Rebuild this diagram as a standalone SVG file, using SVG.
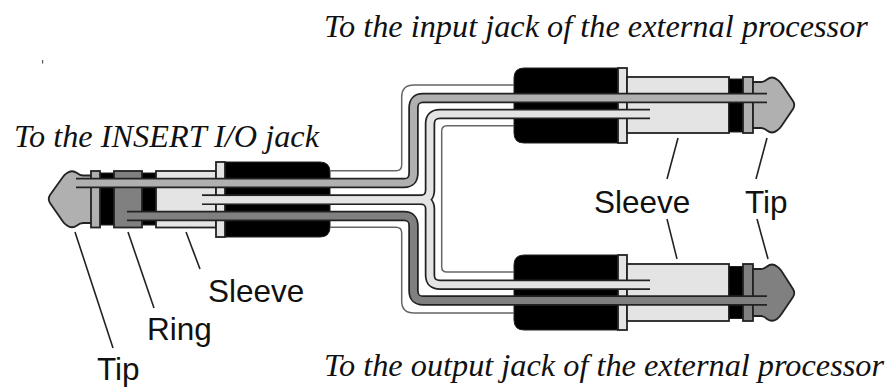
<svg xmlns="http://www.w3.org/2000/svg" width="889" height="387" viewBox="0 0 889 387">
<style>
.t{font-family:"Liberation Serif",serif;font-style:italic;font-size:32.3px;fill:#111}
.s{font-family:"Liberation Sans",sans-serif;font-size:31.5px;fill:#111}
.b{fill:#000;stroke:#222;stroke-width:1}
.sl{fill:#e4e4e4;stroke:#222;stroke-width:1.8}
.g{fill:#b0b0b0;stroke:#222;stroke-width:1.8}
.d{fill:#808080;stroke:#222;stroke-width:1.8}
.thin{fill:none;stroke:#666;stroke-width:1.5}
.wo{fill:none;stroke:#222;stroke-width:10.5}
.wl{fill:none;stroke:#e4e4e4;stroke-width:7}
.wg{fill:none;stroke:#b0b0b0;stroke-width:7}
.wd{fill:none;stroke:#808080;stroke-width:7}
.lead{fill:none;stroke:#222;stroke-width:1.6}
</style>
<rect width="889" height="387" fill="#fff"/>
<rect x="42" y="60" width="1.2" height="3.500" fill="#555"/>
<g id="plug-left">
<path class="g" d="M92 175.500H83Q80 175.500 77 173Q72 169.500 67 173Q64.500 174.500 62.500 177.500L50 195Q47.500 199 50 203L62.500 221Q64.500 224 67 225.500Q72 229 77 225.500Q80 223 83 223H92Z"/>
<rect class="b" x="100" y="173" width="14" height="52"/>
<rect class="b" x="142" y="173" width="14" height="52"/>
<rect class="g" x="91" y="171" width="9" height="56.500"/>
<rect class="d" x="114" y="171" width="28" height="56.500"/>
<rect class="sl" x="156" y="171" width="60" height="56.500"/>
<path class="b" d="M225 162H320Q330 162 330 172V227Q330 237 320 237H225Z"/>
<rect class="sl" x="216" y="162" width="9" height="75"/>
</g>
<g id="plug-top">
<path class="b" d="M618 68H524Q514 68 514 78V133Q514 143 524 143H618Z"/>
<rect class="sl" x="618" y="68" width="9" height="75"/>
<rect class="sl" x="627" y="77" width="102" height="56"/>
<rect class="b" x="729" y="79" width="14" height="53"/>
<rect class="g" x="743" y="77" width="10" height="56"/>
<path class="g" d="M753 82H761Q764 82 767 79.500Q772 75.500 777 79.500Q779.500 81 781.500 84L793 101Q795.500 105 793 109L781.500 126Q779.500 129 777 130.500Q772 134.500 767 130.500Q764 128 761 128H753Z"/>
</g>
<g id="plug-bottom">
<path class="b" d="M618 255H524Q514 255 514 265V320Q514 330 524 330H618Z"/>
<rect class="sl" x="618" y="255" width="9" height="75"/>
<rect class="sl" x="627" y="264" width="102" height="57"/>
<rect class="b" x="729" y="266.500" width="14" height="52"/>
<rect class="d" x="743" y="264" width="10" height="57"/>
<path class="d" d="M753 269H761Q764 269 767 266.500Q772 262.500 777 266.500Q779.500 268 781.500 271L793 289Q795.500 293 793 297L781.500 314Q779.500 317 777 319Q772 322.500 767 319Q764 316 761 316H753Z"/>
</g>
<g id="connectors">
<path class="thin" d="M330 170.700H396Q401.700 170.700 401.700 165V97Q401.700 85 414 85H514"/>
<path class="thin" d="M330 227.300H396Q401.700 227.300 401.700 233V301Q401.700 313 414 313H514"/>
<path class="thin" d="M514 125.700H447Q441.700 125.700 441.700 131V267Q441.700 272 447 272H514"/>
<path class="wo" d="M76 183H404Q413.500 183 413.500 173V108Q413.500 98 423 98H767"/>
<path class="wg" d="M74 183H404Q413.500 183 413.500 173V108Q413.500 98 423 98H769"/>
<path class="wo" d="M202 199.700H420Q430 199.700 430 190V124Q430 114 440 114H650"/>
<path class="wo" d="M202 199.700H420Q430 199.700 430 209V275Q430 284.700 440 284.700H650"/>
<path class="wl" d="M200 199.700H420Q430 199.700 430 190V124Q430 114 440 114H652"/>
<path class="wl" d="M200 199.700H420Q430 199.700 430 209V275Q430 284.700 440 284.700H652"/>
<path class="wo" d="M127 216H404Q413.500 216 413.500 226V290.500Q413.500 300.500 423 300.500H767"/>
<path class="wd" d="M125 216H404Q413.500 216 413.500 226V290.500Q413.500 300.500 423 300.500H769"/>
<path class="lead" d="M75 232L113 348"/>
<path class="lead" d="M128 232L154 308"/>
<path class="lead" d="M186 232L200 269"/>
<path class="lead" d="M678 138L667 179"/>
<path class="lead" d="M767 138L756 179"/>
<path class="lead" d="M677 259L667 219"/>
<path class="lead" d="M768 259L757 219"/>
</g>
<g id="labels">
<text class="t" x="324" y="36.700">To the input jack of the external processor</text>
<text class="t" x="14" y="146.500">To the INSERT I/O jack</text>
<text class="t" x="324" y="376">To the output jack of the external processor</text>
<text class="s" x="208" y="301.500">Sleeve</text>
<text class="s" x="147" y="340">Ring</text>
<text class="s" x="97" y="380">Tip</text>
<text class="s" x="594" y="212.500">Sleeve</text>
<text class="s" x="745" y="212.500">Tip</text>
</g>
</svg>
